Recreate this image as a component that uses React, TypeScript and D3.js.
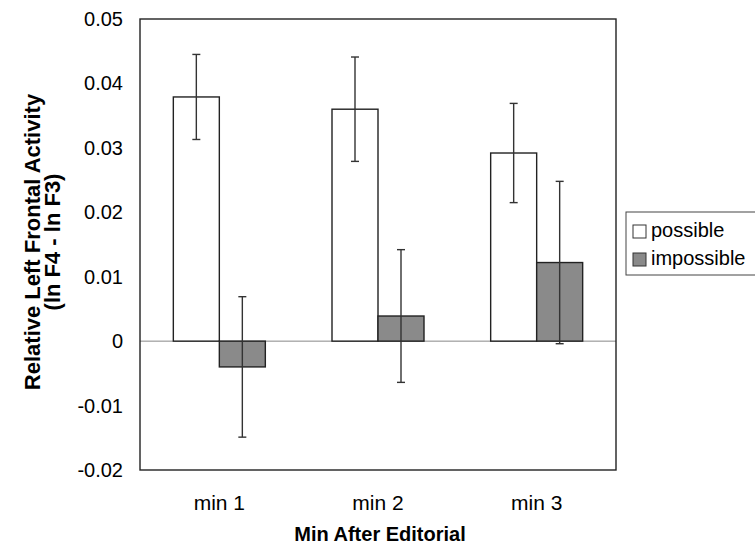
import React from 'react';
import * as d3 from 'd3';

const categories = ['min 1', 'min 2', 'min 3'];
const seriesNames = ['possible', 'impossible'];
const possibleMeans = [0.0379, 0.0360, 0.0292];
const possibleErrors = [0.0066, 0.0081, 0.0077];
const impossibleMeans = [-0.0040, 0.0039, 0.0122];
const impossibleErrors = [0.0109, 0.0103, 0.0126];
const yTicks = [-0.02, -0.01, 0, 0.01, 0.02, 0.03, 0.04, 0.05];

const W = 755;
const H = 547;
const margin = { top: 19, right: 139, bottom: 77, left: 140 };

const fills: Record<string, string> = { possible: '#ffffff', impossible: '#8a8a8a' };

const App = () => {
    const x = d3.scaleBand<string>()
        .domain(categories)
        .range([margin.left, W - margin.right]);

    const inner = d3.scaleBand<string>()
        .domain(seriesNames)
        .range([0, 92]);

    const y = d3.scaleLinear()
        .domain([-0.02, 0.05])
        .range([H - margin.bottom, margin.top]);

    const rows = categories.flatMap((c, i) => [
        { cat: c, key: 'possible', value: possibleMeans[i], err: possibleErrors[i] },
        { cat: c, key: 'impossible', value: impossibleMeans[i], err: impossibleErrors[i] },
    ]);

    const barX = (d: { cat: string; key: string }) =>
        (x(d.cat) as number) + x.bandwidth() / 2 - 46 + (inner(d.key) as number);

    const font = '"Liberation Sans", Arial, sans-serif';

    return (
        <svg width={W} height={H} style={{ position: 'absolute', left: 0, top: 0, fontFamily: font }}>
            <rect x={0} y={0} width={W} height={H} fill="#fff" />

            {/* zero line */}
            <line x1={margin.left} x2={W - margin.right} y1={y(0)} y2={y(0)} stroke="#888" strokeWidth={1} />

            {rows.map((d, i) => (
                <rect key={i}
                    x={barX(d)}
                    y={y(Math.max(0, d.value))}
                    width={inner.bandwidth()}
                    height={Math.abs(y(d.value) - y(0))}
                    fill={fills[d.key]}
                    stroke="#222"
                    strokeWidth={1.4} />
            ))}

            {rows.map((d, i) => {
                const cx = barX(d) + inner.bandwidth() / 2;
                return (
                    <g key={'e' + i} stroke="#333" strokeWidth={1.4}>
                        <line x1={cx} x2={cx} y1={y(d.value + d.err)} y2={y(d.value - d.err)} />
                        <line x1={cx - 4} x2={cx + 4} y1={y(d.value + d.err)} y2={y(d.value + d.err)} />
                        <line x1={cx - 4} x2={cx + 4} y1={y(d.value - d.err)} y2={y(d.value - d.err)} />
                    </g>
                );
            })}

            {/* plot frame */}
            <rect x={margin.left} y={margin.top} width={W - margin.right - margin.left}
                height={H - margin.bottom - margin.top} fill="none" stroke="#222" strokeWidth={1.4} />

            {yTicks.map(t => (
                <text key={t} x={123} y={y(t)} dy="0.35em" textAnchor="end" fontSize={20}>
                    {t === 0 ? '0' : d3.format('.2f')(t).replace('\u2212', '-')}
                </text>
            ))}

            {categories.map(c => (
                <text key={c} x={(x(c) as number) + x.bandwidth() / 2} y={503} dy="0.35em"
                    textAnchor="middle" fontSize={21}>{c}</text>
            ))}

            <text x={380} y={534} dy="0.35em" textAnchor="middle" fontSize={20} fontWeight="bold">
                Min After Editorial
            </text>

            <g transform="translate(32,242) rotate(-90)">
                <text x={0} y={0} dy="0.35em" textAnchor="middle" fontSize={22} fontWeight="bold">
                    Relative Left Frontal Activity
                </text>
                <text x={0} y={20} dy="0.35em" textAnchor="middle" fontSize={22} fontWeight="bold">
                    (ln F4 - ln F3)
                </text>
            </g>

            {/* legend */}
            <rect x={626} y={212} width={140} height={63} fill="#fff" stroke="#444" strokeWidth={1} />
            {seriesNames.map((s, i) => (
                <g key={s} transform={`translate(633,${230 + i * 28})`}>
                    <rect x={0} y={-5} width={13} height={13} fill={fills[s]} stroke="#333" strokeWidth={1} />
                    <text x={18} y={0} dy="0.35em" fontSize={20}>{s}</text>
                </g>
            ))}
        </svg>
    );
};

export default App;
